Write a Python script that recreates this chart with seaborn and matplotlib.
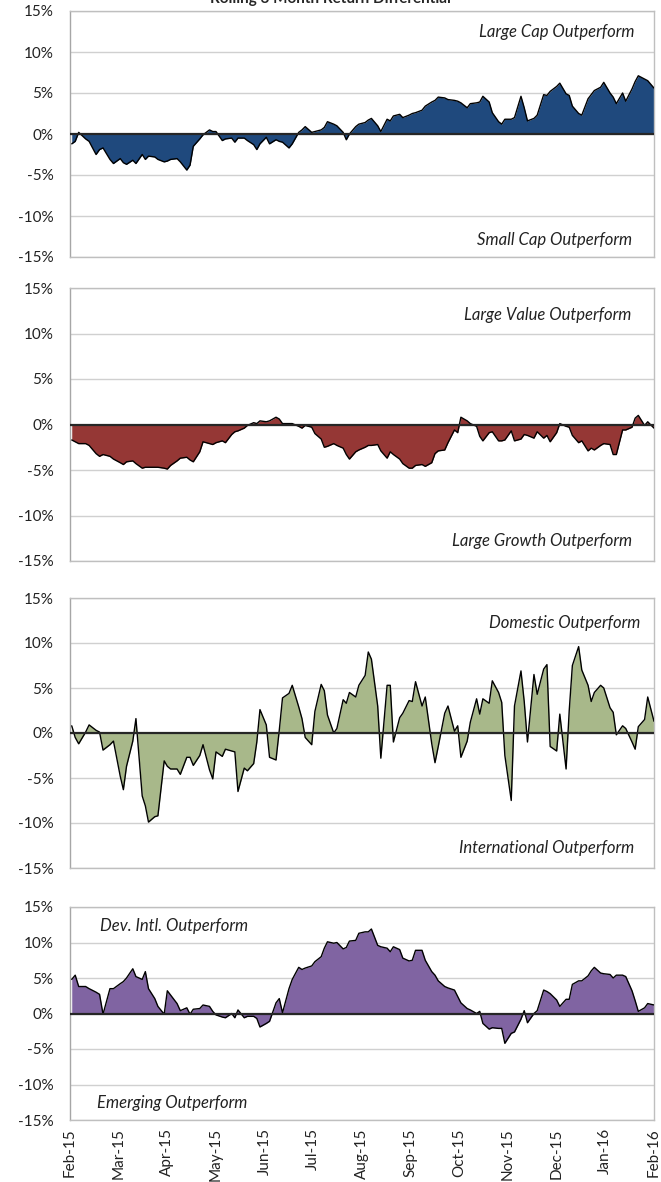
import pandas as pd
import matplotlib
matplotlib.use("Agg")
import matplotlib.pyplot as plt
from matplotlib.ticker import FuncFormatter
import seaborn as sns

sns.set_style("white")
plt.rcParams["font.family"] = ["Lato", "DejaVu Sans"]

TITLE = "Rolling 3 Month Return Differential"

# every other business day, Feb-15 .. Feb-16
dates = pd.bdate_range("2015-02-02", "2016-02-01")[::2]
month_labels = pd.date_range("2015-02-01", "2016-02-01", freq="MS").strftime("%b-%y")

# rolling 3m return differentials, in %
large_vs_small = [
    -1.2, -0.9, 0.2, -0.6, -0.9, -2.5, -1.9, -1.7, -3.1, -3.6,
    -3.0, -3.5, -3.7, -3.2, -3.6, -2.5, -3.1, -2.7, -2.8, -3.1,
    -3.4, -3.3, -3.1, -3.0, -3.4, -4.4, -3.8, -1.5, -0.6, -0.1,
    0.5, 0.3, 0.3, -0.8, -0.6, -0.5, -1.0, -0.5, -0.5, -0.8,
    -1.3, -1.9, -1.2, -0.4, -1.2, -0.7, -0.9, -1.0, -1.7, -1.2,
    0.2, 0.5, 0.9, 0.2, 0.3, 0.5, 0.8, 1.5, 1.2, 1.0,
    0.2, -0.7, 0.0, 0.9, 1.2, 1.4, 1.7, 1.9, 1.0, 0.3,
    1.8, 1.6, 2.2, 2.4, 2.0, 2.3, 2.5, 2.6, 2.9, 3.4,
    3.9, 4.1, 4.5, 4.4, 4.2, 4.1, 4.0, 3.8, 3.2, 3.7,
    3.8, 3.9, 4.6, 3.9, 2.6, 1.5, 1.2, 1.8, 1.8, 2.0,
    4.6, 3.2, 1.6, 1.9, 2.3, 4.8, 4.7, 5.2, 5.8, 6.2,
    4.9, 4.7, 3.4, 2.5, 2.3, 4.3, 4.8, 5.3, 5.7, 6.3,
    5.0, 4.5, 3.7, 5.0, 4.0, 5.5, 6.4, 7.1, 6.7, 6.5,
    5.6,
]

value_vs_growth = [
    -1.7, -1.9, -2.1, -2.1, -2.3, -3.2, -3.5, -3.3, -3.5, -3.8,
    -4.2, -4.4, -4.1, -4.0, -4.3, -4.8, -4.7, -4.7, -4.7, -4.7,
    -4.8, -4.9, -4.5, -4.0, -3.7, -3.6, -3.9, -4.1, -3.0, -1.9,
    -2.1, -2.2, -2.0, -1.8, -2.0, -1.1, -0.8, -0.7, -0.4, -0.1,
    0.2, 0.1, 0.4, 0.3, 0.4, 0.8, 0.6, 0.1, 0.1, 0.1,
    -0.2, -0.4, -0.1, -0.3, -1.0, -1.6, -2.5, -2.4, -2.1, -2.3,
    -2.6, -3.3, -3.8, -3.0, -2.8, -2.5, -2.3, -2.3, -2.2, -2.9,
    -3.7, -3.0, -3.3, -3.8, -4.3, -4.8, -4.8, -4.5, -4.4, -4.6,
    -4.2, -3.2, -2.9, -2.8, -2.0, -0.6, -0.9, 0.8, 0.4, 0.1,
    -0.2, -1.3, -1.8, -0.9, -0.8, -1.8, -1.8, -1.7, -0.7, -1.8,
    -1.6, -1.1, -1.2, -1.5, -0.8, -1.5, -1.2, -1.9, -0.9, 0.1,
    -0.2, -0.3, -1.2, -2.0, -1.8, -2.9, -2.6, -2.8, -2.3, -2.1,
    -2.2, -3.3, -3.3, -0.6, -0.6, -0.3, 0.7, 1.0, -0.1, 0.3,
    -0.4,
]

domestic_vs_intl = [
    0.8, -0.5, -1.2, 0.1, 0.9, 0.3, 0.1, -1.9, -1.3, -0.9,
    -4.8, -6.3, -3.7, -0.9, 1.6, -7.0, -8.1, -9.9, -9.3, -9.2,
    -3.1, -3.7, -4.0, -4.0, -4.6, -2.7, -2.7, -3.6, -2.5, -1.3,
    -4.1, -5.1, -2.1, -2.6, -1.8, -2.0, -2.1, -6.5, -3.9, -4.2,
    -3.4, -1.0, 2.6, 0.9, -2.7, -3.0, 0.3, 3.9, 4.4, 5.3,
    2.9, 1.6, -0.5, -1.3, 2.4, 5.4, 4.7, 2.0, 0.0, 0.5,
    3.7, 3.3, 4.5, 4.0, 5.3, 6.4, 9.0, 8.2, 3.0, -2.8,
    5.3, 5.3, -1.0, 1.7, 2.2, 3.6, 3.5, 5.7, 3.0, 4.0,
    -1.2, -3.3, -1.5, 2.2, 3.0, 0.2, 0.8, -2.7, -0.9, 1.2,
    3.8, 2.1, 3.8, 3.3, 5.8, 4.5, 3.4, -2.5, -7.5, 3.0,
    6.9, 3.5, -1.0, 6.5, 4.3, 7.1, 7.6, -1.5, -2.0, 2.1,
    -4.0, 2.5, 7.5, 9.6, 7.0, 5.3, 3.5, 4.5, 5.3, 5.0,
    2.8, 2.3, -0.2, 0.8, 0.5, -1.0, -1.8, 0.7, 1.5, 4.0,
    1.3,
]

dev_vs_emerging = [
    4.8, 5.4, 3.8, 3.8, 3.5, 3.0, 2.7, -0.1, 3.5, 3.5,
    4.2, 4.5, 5.0, 6.3, 5.2, 4.8, 5.9, 3.5, 2.1, 1.0,
    -0.1, 3.2, 2.6, 1.4, 0.4, 0.8, -0.1, 0.6, 0.7, 1.2,
    1.0, 0.3, -0.2, -0.5, -0.6, 0.0, -0.6, 0.5, -0.6, -0.4,
    -0.4, -0.7, -1.9, -1.4, -1.1, 1.5, 2.1, 0.1, 3.5, 4.8,
    6.5, 6.2, 6.4, 6.7, 7.3, 8.0, 9.2, 10.1, 9.9, 10.0,
    9.1, 9.3, 10.2, 10.3, 11.3, 11.5, 11.5, 11.9, 9.6, 9.4,
    9.2, 8.7, 9.4, 9.0, 7.8, 7.4, 7.5, 8.9, 8.9, 7.5,
    5.9, 5.4, 4.6, 3.8, 3.6, 3.3, 2.4, 1.5, 0.7, 0.5,
    0.0, 0.3, -1.4, -2.2, -2.0, -2.1, -2.1, -4.2, -2.8, -2.6,
    -0.8, 0.4, -1.3, 0.0, 0.4, 3.3, 3.1, 2.8, 1.9, 1.0,
    2.0, 2.0, 4.1, 4.6, 4.6, 5.3, 6.0, 6.5, 5.7, 5.6,
    5.5, 5.0, 5.4, 5.4, 5.2, 3.2, 1.8, 0.3, 0.8, 1.4,
    1.2,
]

# series, fill colour, top label, bottom label
panels = [
    (large_vs_small, "#1f497d", "Large Cap Outperform", "Small Cap Outperform"),
    (value_vs_growth, "#953735", "Large Value Outperform", "Large Growth Outperform"),
    (domestic_vs_intl, "#a8b88a", "Domestic Outperform", "International Outperform"),
    (dev_vs_emerging, "#8064a2", "Dev. Intl. Outperform", "Emerging Outperform"),
]

# Excel spaces the months evenly, so place dates as "months since Feb-15"
month_pos = ((dates.year - 2015) * 12 + dates.month - 2
             + (dates.day - 1) / dates.days_in_month)

# pixel layout on the 661x1182 canvas: (top, bottom) of each plot box
W, H = 661, 1182
LEFT, RIGHT = 70, 654
boxes = [(11, 257), (288, 561), (598, 868), (907, 1120)]
# label anchors in axes fraction: (x, y, ha) for top and bottom labels
label_pos = [
    ((0.967, 0.915, "right"), (0.962, 0.07, "right")),
    ((0.962, 0.90, "right"), (0.962, 0.075, "right")),
    ((0.976, 0.907, "right"), (0.967, 0.074, "right")),
    ((0.052, 0.91, "left"), (0.046, 0.08, "left")),
]

fig = plt.figure(figsize=(W / 100, H / 100), dpi=100)
# title sits mostly above the canvas, as in the source image
fig.text(0.5, 1 - 3 / H, TITLE, ha="center", va="baseline",
         fontsize=11, fontweight="bold")

for k, ((vals, color, top_lbl, bot_lbl), (top, bottom)) in enumerate(zip(panels, boxes)):
    ax = fig.add_axes([LEFT / W, 1 - bottom / H, (RIGHT - LEFT) / W, (bottom - top) / H])
    df = pd.DataFrame({"pos": month_pos, "value": vals})

    ax.fill_between(df["pos"], df["value"], 0, color=color, linewidth=0, zorder=2)
    sns.lineplot(data=df, x="pos", y="value", ax=ax, color="black",
                 linewidth=1.0, zorder=3)
    ax.axhline(0, color="#262626", linewidth=1.6, zorder=4)

    ax.set_ylim(-15, 15)
    ax.set_yticks(range(-15, 20, 5))
    ax.yaxis.set_major_formatter(FuncFormatter(lambda v, _: f"{v:.0f}%"))
    ax.yaxis.grid(True, color="#d0d0d0", linewidth=1)
    ax.set_axisbelow(True)
    ax.tick_params(axis="y", length=0, pad=12, labelsize=11, labelcolor="#222222")

    ax.set_xlim(0, 12)
    ax.set_xticks(range(13))
    if k < 3:
        ax.tick_params(axis="x", length=0, labelbottom=False)
    else:
        ax.set_xticklabels(month_labels)
        ax.tick_params(axis="x", length=0, pad=6, labelsize=11,
                       labelrotation=90, labelcolor="#222222")
    ax.set_xlabel("")
    ax.set_ylabel("")

    for side in ax.spines.values():
        side.set_color("#bfbfbf")
        side.set_linewidth(1)
    ax.spines["left"].set_color("#a6a6a6")

    (tx, ty, tha), (bx, by, bha) = label_pos[k]
    ax.text(tx, ty, top_lbl, transform=ax.transAxes, ha=tha, va="center",
            fontsize=12, style="italic", color="#222222", zorder=5)
    ax.text(bx, by, bot_lbl, transform=ax.transAxes, ha=bha, va="center",
            fontsize=12, style="italic", color="#222222", zorder=5)

fig.savefig("out.png", dpi=100)
